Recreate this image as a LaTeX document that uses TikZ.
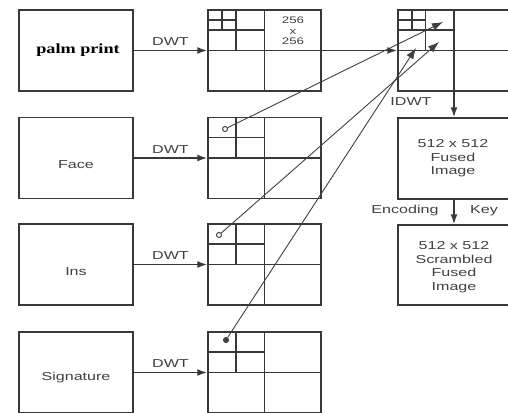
\documentclass[tikz,border=0pt]{standalone}
\usepackage{fontspec}
\setmainfont{Liberation Sans}[FakeStretch=1.4]
\newfontfamily\palmfont{Liberation Serif}[FakeStretch=1.3]
\usetikzlibrary{arrows.meta,calc}
\tikzset{
  ln/.style={draw=black!78, line width=1.5pt},
  blk/.style={ln, rectangle, inner sep=0pt, minimum width=114pt, minimum height=81pt},
  grd/.style={ln, rectangle, inner sep=0pt, minimum width=113pt, minimum height=81pt},
  lbl/.style={text=black!75, font=\fontsize{11.5}{13.5}\selectfont, inner sep=0pt, align=center},
  arr/.style={ln, -{Latex[length=10pt,width=7pt]}},
  farr/.style={draw=black!75, line width=0.9pt, -{Latex[length=11pt,width=8pt]}},
  dotmark/.style={circle, draw=black!75, line width=1pt, minimum size=5pt, inner sep=0pt},
}
\newcommand{\gridtwo}[1]{%
  \draw[ln] (#1.north) -- (#1.south);
  \draw[ln] (#1.west) -- (#1.east);
  \draw[ln] ($(#1.north west)!.5!(#1.north)$) -- ($(#1.west)!.5!(#1.center)$);
  \draw[ln] ($(#1.north west)!.5!(#1.west)$) -- ($(#1.north)!.5!(#1.center)$);
}
\begin{document}
\begin{tikzpicture}[x=1pt,y=-1pt]
\useasboundingbox (0,0) rectangle (508,412);
\clip (0,0) rectangle (508,412);

% left boxes
\node[blk] (palm) at (76,50.5) {};
\node[blk] (face) at (76,158) {};
\node[blk] (ins) at (76,264.5) {};
\node[blk] (sig) at (76,372.5) {};
\node[lbl, text=black, font=\palmfont\bfseries\fontsize{14}{16}\selectfont] (palmt) at (78,50.5) {palm print};
\node[lbl] (facet) at (76,165) {Face};
\node[lbl] (inst) at (76,272) {Ins};
\node[lbl] (sigt) at (76,378) {Signature};

% decomposition grids
\node[grd] (g1) at (264.5,50.5) {};
\node[grd] (g2) at (264.5,158) {};
\node[grd] (g3) at (264.5,264.5) {};
\node[grd] (g4) at (264.5,372.5) {};
\gridtwo{g1}
\gridtwo{g2}
\gridtwo{g3}
\gridtwo{g4}
\draw[ln] (222,10) -- (222,30);
\draw[ln] (208,20) -- (236.5,20);
\node[lbl, font=\fontsize{9.5}{10.5}\selectfont] (size) at (293,31) {256\\x\\256};

% fused grid
\node[grd, minimum width=112pt] (gr) at (454,50.5) {};
\gridtwo{gr}
\draw[ln] (412,10) -- (412,30);
\draw[ln] (398,20) -- (426,20);

% right boxes
\node[grd, minimum width=112pt] (fused) at (454,158.5) {};
\node[grd, minimum width=112pt, minimum height=80pt] (scr) at (454,265) {};
\node[lbl] (fusedt) at (453,158.5) {512 x 512\\Fused\\Image};
\node[lbl] (scrt) at (454,267) {512 x 512\\Scrambled\\Fused\\Image};

% DWT arrows
\draw[arr] (palm.east) -- node[lbl, above=4pt] (dwt1) {DWT} (g1.west);
\draw[arr] (face.east) -- node[lbl, above=4pt] (dwt2) {DWT} (g2.west);
\draw[arr] (ins.east) -- node[lbl, above=4pt] (dwt3) {DWT} (g3.west);
\draw[arr] (sig.east) -- node[lbl, above=4pt] (dwt4) {DWT} (g4.west);

% approximation into fused grid
\draw[arr] (g1.east) -- (gr.west);

% detail marks and their arrows
\node[dotmark] (fc) at (225,129) {};
\node[dotmark] (ic) at (219,235) {};
\node[dotmark, fill=black!75] (sc) at (226,340) {};
\coordinate (ta) at (443,22);
\coordinate (tc) at (439,42);
\coordinate (tb) at (416,48);
\draw[farr] (fc) -- (ta);
\draw[farr] (ic) -- (tc);
\draw[farr] (sc) -- (tb);

% IDWT and encoding
\draw[arr] (gr.south) -- (fused.north);
\node[lbl] (idwt) at (411,102) {IDWT};
\draw[arr] (fused.south) -- (scr.north);
\node[lbl] (enc) at (405,211) {Encoding};
\node[lbl] (key) at (484,211) {Key};
\end{tikzpicture}
\end{document}
